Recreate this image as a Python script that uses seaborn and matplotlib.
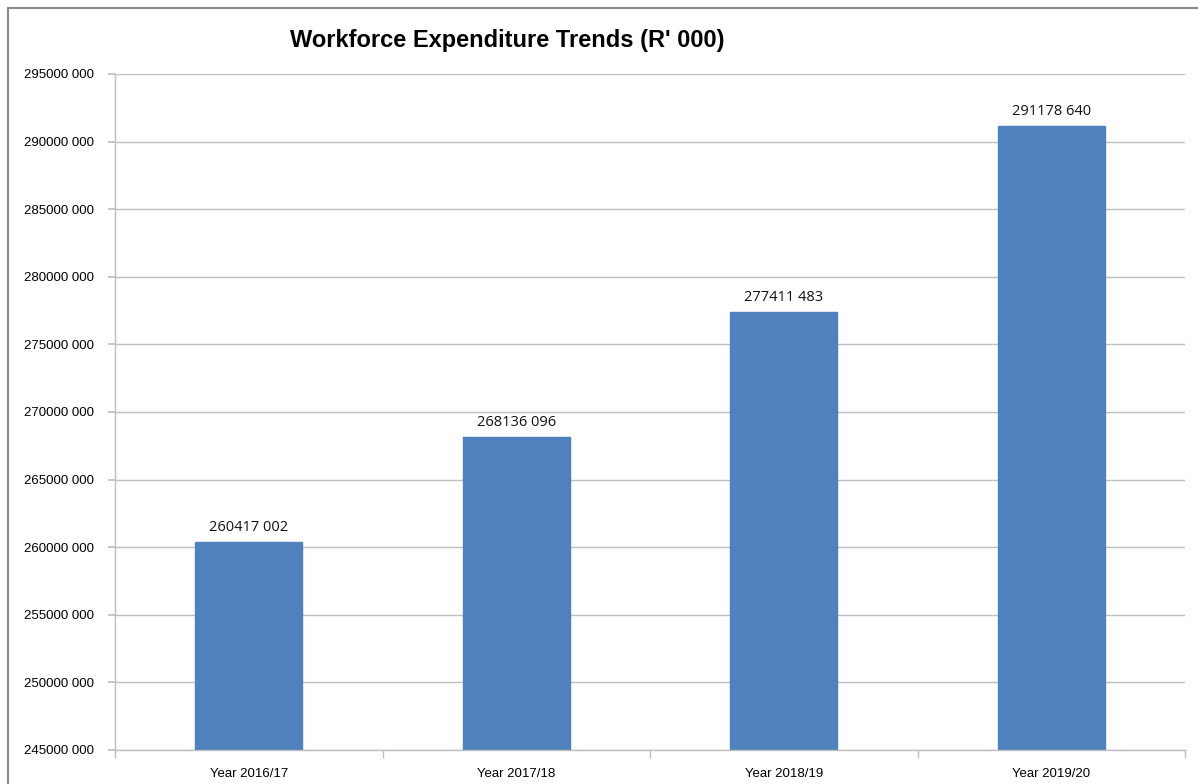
import pandas as pd
import matplotlib.pyplot as plt
import matplotlib.ticker as mticker
from matplotlib.patches import Rectangle
import seaborn as sns

# Data
years = ['Year 2016/17', 'Year 2017/18', 'Year 2018/19', 'Year 2019/20']
spend = [260417002, 268136096, 277411483, 291178640]

df = pd.DataFrame({'Year': years, 'Spend': spend})

sns.set_theme(style="white")
plt.rcParams['font.family'] = ['Liberation Sans', 'DejaVu Sans']

fig = plt.figure(figsize=(11.98, 7.84), dpi=100)
ax = fig.add_axes([115 / 1198, 34 / 784, 1070 / 1198, 676 / 784])

sns.barplot(data=df, x='Year', y='Spend', color='#4F81BD', width=0.4,
            saturation=1, edgecolor='#4F81BD', ax=ax)

ax.set_ylim(245000000, 295000000)
ax.set_xlim(-0.5, len(years) - 0.5)
ax.yaxis.set_major_locator(mticker.MultipleLocator(5000000))
ax.yaxis.set_major_formatter(mticker.FuncFormatter(
    lambda v, pos: f"{int(v) // 1000} {int(v) % 1000:03d}"))
ax.grid(axis='y', color='#BEBEBE', linewidth=1)
ax.set_axisbelow(True)

for s in ['top', 'right']:
    ax.spines[s].set_visible(False)
for s in ['left', 'bottom']:
    ax.spines[s].set_color('#BEBEBE')
    ax.spines[s].set_linewidth(1)

ax.tick_params(axis='y', which='major', length=5, color='#BEBEBE', labelsize=9.5, pad=10, labelcolor='black', left=True)
ax.tick_params(axis='x', which='major', length=0, labelsize=9.5, pad=13, labelcolor='black')
ax.xaxis.set_minor_locator(mticker.FixedLocator([i - 0.5 for i in range(len(years) + 1)]))
ax.tick_params(axis='x', which='minor', length=6, color='#BEBEBE', bottom=True)
ax.set_xlabel('')
ax.set_ylabel('')

for i, v in enumerate(spend):
    ax.annotate(f"{v // 1000} {v % 1000:03d}", (i, v), xytext=(0, 5),
                textcoords='offset points', ha='center', va='bottom',
                fontsize=10.5, family=['Open Sans', 'DejaVu Sans'], color='#111111')

fig.text(507 / 1198, 1 - 40 / 784, "Workforce Expenditure Trends (R' 000)",
         ha='center', va='center', fontsize=17, fontweight='bold', color='black')

# chart border
fig.patches.append(Rectangle((8 / 1198, -0.1), 1.2, 1.1 - 8 / 784,
                             transform=fig.transFigure, fill=False,
                             edgecolor='#8C8C8C', linewidth=1.5))

fig.savefig('out.png', dpi=100)
